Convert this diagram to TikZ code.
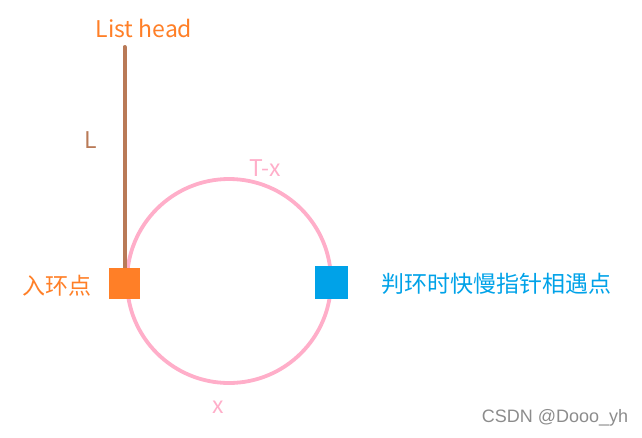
\documentclass[tikz,border=0pt]{standalone}
\usepackage{fontspec}
\setmainfont{Noto Sans CJK SC}
\newfontfamily\markfont{Liberation Sans}
\usepackage{tkz-euclide}

\definecolor{ringpink}{HTML}{FFAEC9}
\definecolor{headorange}{HTML}{FF7F27}
\definecolor{tailbrown}{HTML}{B97A57}
\definecolor{meetblue}{HTML}{00A2E8}

\tikzset{
  sqbox/.style={draw=none,minimum size=31pt,inner sep=0pt},
  lbl/.style={font=\fontsize{23}{27}\selectfont,inner sep=0pt}
}

\begin{document}
\begin{tikzpicture}[x=1pt,y=-1pt]
\useasboundingbox (0,0) rectangle (642,437);

\tkzDefPoint(229,281){O}
\tkzDefPoint(331,281){tR}
  \tkzDrawCircle[line width=3.8pt,color=ringpink](O,tR)

\tkzDefPoint(124.5,47){tTop}
\tkzDefPoint(124.5,283){tIn}
  \tkzDrawSegment[line width=4pt,color=tailbrown](tTop,tIn)

\node[sqbox,fill=headorange] (nIn) at (tIn) {};
\node[sqbox,fill=meetblue,minimum size=33pt] (nMeet) at (331,282) {};

\node[lbl,text=headorange] (nHead) at (144,28) {List head};
\node[lbl,text=tailbrown] (nL) at (91,140) {L};
\node[lbl,text=ringpink] (nTx) at (265,168) {T-x};
\node[lbl,text=ringpink] (nX) at (218,407) {x};
\node[lbl,text=headorange] (nInLbl) at (57,286) {入环点};
\node[lbl,text=meetblue] (nMeetLbl) at (496,284) {判环时快慢指针相遇点};

\node[font=\markfont\fontsize{18}{21}\selectfont,text=black!45,inner sep=0pt] (nMark) at (555,418) {CSDN @Dooo\_yh};

\end{tikzpicture}
\end{document}
